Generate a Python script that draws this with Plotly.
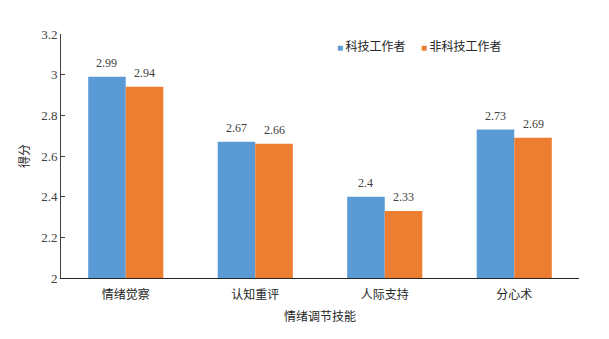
import plotly.graph_objects as go

# 情绪调节技能得分
categories = ['情绪觉察', '认知重评', '人际支持', '分心术']
series_names = ['科技工作者', '非科技工作者']
tech_scores = [2.99, 2.67, 2.40, 2.73]
nontech_scores = [2.94, 2.66, 2.33, 2.69]
tech_labels = ['2.99', '2.67', '2.4', '2.73']
nontech_labels = ['2.94', '2.66', '2.33', '2.69']
y_ticks = [2, 2.2, 2.4, 2.6, 2.8, 3, 3.2]
y_tick_text = ['2', '2.2', '2.4', '2.6', '2.8', '3', '3.2']

colors = ['#5B9BD5', '#ED7D31']
num_font = 'Liberation Serif, Times New Roman, serif'
cjk_font = 'Liberation Serif, Noto Sans CJK SC, serif'

# 页面 body 有 8px 边距，这里按绘图区实际像素反推
plot_w, plot_h = 518, 244
m_l, m_t, m_r, m_b = 53, 26, 30, 61
bargap = 0.42
bar_px = plot_w / len(categories) * (1 - bargap) / 2

fig = go.Figure()
for name, vals, color in zip(series_names, [tech_scores, nontech_scores], colors):
    fig.add_trace(go.Bar(
        name=name, x=categories, y=vals,
        marker=dict(color=color, line=dict(width=0)),
        showlegend=False,
    ))

# 数据标签
for labels, vals, shift in [(tech_labels, tech_scores, -bar_px / 2),
                            (nontech_labels, nontech_scores, bar_px / 2)]:
    for cat, v, t in zip(categories, vals, labels):
        fig.add_annotation(
            x=cat, y=v, text=t, showarrow=False,
            xshift=shift, yshift=5, yanchor='bottom',
            font=dict(family=num_font, size=12, color='#404040'),
        )

# 图例（小方块 + 文字）
for name, color, lx in zip(series_names, colors, [0.529, 0.691]):
    fig.add_annotation(
        xref='paper', yref='paper', x=lx, y=0.947,
        xanchor='left', yanchor='middle', showarrow=False,
        text=f'<span style="color:{color};font-size:10px">■ </span>{name}',
        font=dict(family=cjk_font, size=12, color='#262626'),
    )

fig.update_layout(
    width=m_l + plot_w + m_r, height=m_t + plot_h + m_b,
    barmode='group', bargap=bargap, bargroupgap=0,
    plot_bgcolor='white', paper_bgcolor='white',
    margin=dict(l=m_l, r=m_r, t=m_t, b=m_b, autoexpand=False),
    font=dict(family=cjk_font, size=12, color='#262626'),
    showlegend=False,
)
fig.update_yaxes(
    range=[2, 3.2], tickvals=y_ticks, ticktext=y_tick_text,
    showgrid=False, showline=True, linecolor='#404040', linewidth=1,
    ticks='inside', ticklen=4, tickcolor='#404040',
    tickfont=dict(family=num_font, size=13, color='#404040'),
    title=dict(text='得分', font=dict(family=cjk_font, size=12, color='#262626'), standoff=8),
    zeroline=False, automargin=False,
)
fig.update_xaxes(
    showgrid=False, showline=True, linecolor='#262626', linewidth=1,
    ticks='', ticklabelstandoff=6,
    tickfont=dict(family=cjk_font, size=12, color='#262626'),
    title=dict(text='情绪调节技能', font=dict(family=cjk_font, size=12, color='#262626'), standoff=11),
    automargin=False,
)

fig.write_html('out.html')
